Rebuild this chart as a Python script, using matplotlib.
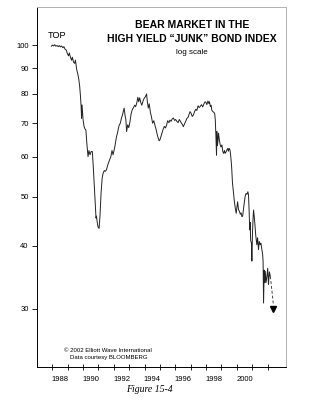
import matplotlib
matplotlib.use("Agg")
import matplotlib.pyplot as plt
from matplotlib.ticker import FixedLocator, NullFormatter, FixedFormatter

# index readings (decimal year, value)
years = [1987.93, 1988.0, 1988.08, 1988.15, 1988.22, 1988.3, 1988.38, 1988.45, 1988.52,
         1988.6, 1988.68, 1988.75, 1988.82, 1988.9, 1988.97, 1989.05, 1989.1, 1989.17,
         1989.25, 1989.3, 1989.38, 1989.45, 1989.5, 1989.58, 1989.65, 1989.72, 1989.78,
         1989.83, 1989.87, 1989.9, 1989.93, 1989.96, 1990.0, 1990.06, 1990.12, 1990.18,
         1990.24, 1990.32, 1990.38, 1990.45, 1990.52, 1990.6, 1990.66, 1990.72, 1990.78,
         1990.84, 1990.87, 1990.92, 1990.97, 1991.04, 1991.1, 1991.17, 1991.24, 1991.3,
         1991.38, 1991.45, 1991.52, 1991.6, 1991.66, 1991.72, 1991.8, 1991.88, 1991.95,
         1992.02, 1992.06, 1992.12, 1992.17, 1992.24, 1992.3, 1992.35, 1992.42, 1992.5,
         1992.56, 1992.62, 1992.67, 1992.73, 1992.78, 1992.83, 1992.9, 1992.97, 1993.05,
         1993.12, 1993.2, 1993.28, 1993.35, 1993.42, 1993.5, 1993.56, 1993.62, 1993.68,
         1993.75, 1993.82, 1993.9, 1993.97, 1994.05, 1994.13, 1994.18, 1994.24, 1994.3,
         1994.38, 1994.45, 1994.52, 1994.6, 1994.67, 1994.75, 1994.82, 1994.88, 1994.95,
         1995.0, 1995.06, 1995.12, 1995.2, 1995.28, 1995.36, 1995.43, 1995.5, 1995.58,
         1995.65, 1995.72, 1995.8, 1995.87, 1995.95, 1996.02, 1996.1, 1996.18, 1996.26,
         1996.34, 1996.4, 1996.47, 1996.52, 1996.6, 1996.68, 1996.76, 1996.84, 1996.9,
         1996.96, 1997.03, 1997.1, 1997.17, 1997.25, 1997.33, 1997.4, 1997.48, 1997.55,
         1997.61, 1997.7, 1997.78, 1997.86, 1997.94, 1998.0, 1998.05, 1998.12, 1998.18,
         1998.22, 1998.28, 1998.33, 1998.37, 1998.44, 1998.5, 1998.56, 1998.6, 1998.64,
         1998.68, 1998.7, 1998.74, 1998.78, 1998.81, 1998.86, 1998.92, 1998.97, 1999.03,
         1999.09, 1999.14, 1999.2, 1999.24, 1999.3, 1999.36, 1999.42, 1999.45, 1999.5,
         1999.56, 1999.61, 1999.66, 1999.72, 1999.78, 1999.84, 1999.9, 1999.96, 2000.0,
         2000.05, 2000.11, 2000.17, 2000.23, 2000.28, 2000.33, 2000.38, 2000.44, 2000.5,
         2000.54, 2000.6, 2000.66, 2000.72, 2000.76, 2000.8, 2000.84, 2000.87, 2000.9,
         2000.95, 2000.98, 2001.02, 2001.06, 2001.09, 2001.13, 2001.18, 2001.23,
         2001.3, 2001.35, 2001.41, 2001.46, 2001.52, 2001.57, 2001.63, 2001.68, 2001.71,
         2001.74, 2001.78, 2001.82, 2001.85, 2001.9, 2001.96, 2002.01, 2002.06, 2002.12,
         2002.18]
index = [99.5, 100.0, 99.6, 100.2, 99.5, 99.8, 99.3, 99.8, 99.2,
         99.6, 98.8, 99.3, 98.2, 97.8, 96.3, 95.2, 96.5, 94.8,
         93.3, 94.6, 92.5, 92.0, 93.4, 89.5, 87.8, 85.5, 82.7,
         79.0, 75.5, 71.6, 76.1, 74.0, 71.0, 69.0, 68.2, 67.9,
         64.0, 60.1, 61.8, 60.6, 61.5, 61.5, 57.5, 53.0, 48.5,
         45.4, 45.8, 44.5, 43.6, 43.3, 46.0, 51.0, 54.5, 55.7,
         56.4, 56.2, 56.6, 57.8, 58.5, 59.2, 60.0, 61.8, 60.6,
         62.0, 62.8, 64.5, 65.8, 67.0, 68.5, 69.4, 70.0, 71.8,
         72.6, 74.0, 75.0, 72.5, 71.2, 67.4, 69.5, 68.6, 70.5,
         73.0, 74.5, 75.2, 76.0, 75.5, 77.0, 78.8, 77.2, 78.6,
         77.0, 76.0, 77.5, 78.4, 79.0, 80.0, 77.2, 75.0, 76.5,
         73.5, 72.0, 70.0, 70.8, 69.4, 68.0, 66.5, 65.5, 64.6,
         64.9, 65.8, 66.7, 68.0, 69.0, 68.5, 69.4, 70.8, 70.2,
         71.0, 70.6, 71.4, 71.7, 70.9, 71.2, 70.6, 70.2, 71.2,
         70.5, 70.0, 69.5, 68.9, 69.8, 70.8, 71.6, 72.0, 73.0,
         73.8, 73.2, 72.2, 72.6, 73.8, 74.6, 74.2, 75.8, 75.2,
         75.5, 76.2, 75.4, 76.5, 77.2, 76.9, 76.2, 77.5, 76.6,
         77.2, 75.5, 76.0, 74.3, 73.8, 73.6, 73.2, 71.0, 66.0,
         60.5, 67.4, 63.2, 64.9, 66.9, 65.0, 63.4, 62.8, 63.4,
         61.5, 61.0, 61.8, 61.0, 61.4, 62.0, 62.4, 61.6, 62.4,
         61.9, 60.0, 57.5, 53.2, 51.0, 49.0, 47.5, 46.4, 47.5,
         48.9, 47.2, 46.8, 46.2, 46.5, 45.7, 45.8, 47.5, 49.0,
         50.1, 50.8, 50.6, 51.2, 50.5, 47.0, 43.0, 44.5, 41.0,
         40.5, 37.3, 42.5, 45.5, 47.1, 45.8, 44.0, 42.0,
         40.2, 41.5, 39.3, 40.8, 40.2, 40.5, 39.3, 38.5, 37.2,
         30.8, 35.8, 33.8, 35.6, 33.8, 34.8, 36.1, 33.5, 35.5,
         34.8]

# projected continuation (dashed arrow)
proj_years = [2002.18, 2002.38]
proj_index = [34.8, 30.6]

ytick_vals = [30, 40, 50, 60, 70, 80, 90, 100]
year_ticks = list(range(1988, 2003))
year_labels = ['1988', '1990', '1992', '1994', '1996', '1998', '2000']

W, H = 310, 400
fig = plt.figure(figsize=(W / 100, H / 100), dpi=100)
plt.rcParams['font.family'] = ['Liberation Sans', 'DejaVu Sans']
ax = fig.add_axes([37 / W, 1 - 367 / H, 249 / W, 360 / H])

ax.plot(years, index, color='#222222', lw=0.7)
ax.plot(proj_years, proj_index, color='#444444', lw=0.7, ls=(0, (3, 2)))
ax.plot([proj_years[-1]], [30.0], marker='v', color='black', ms=5, ls='none')

ax.set_yscale('log')
ax.set_ylim(23.0, 119.0)
ax.set_xlim(1987.0, 2003.2)

ax.yaxis.set_major_locator(FixedLocator(ytick_vals))
ax.yaxis.set_major_formatter(FixedFormatter([str(v) for v in ytick_vals]))
ax.yaxis.set_minor_locator(FixedLocator([]))
ax.yaxis.set_minor_formatter(NullFormatter())
ax.tick_params(axis='y', which='major', direction='out', length=3.5, width=0.6,
               labelsize=5.5, pad=2.5)

ax.xaxis.set_major_locator(FixedLocator(year_ticks))
ax.xaxis.set_major_formatter(NullFormatter())
ax.xaxis.set_minor_locator(FixedLocator([int(y) + 0.5 for y in year_labels]))
ax.xaxis.set_minor_formatter(FixedFormatter(year_labels))
ax.tick_params(axis='x', which='major', direction='inout', length=5, width=0.6)
ax.tick_params(axis='x', which='minor', length=0, labelsize=5.5, pad=6.5)

for s in ['left', 'bottom']:
    ax.spines[s].set_color('black')
    ax.spines[s].set_linewidth(0.7)
for s in ['top', 'right']:
    ax.spines[s].set_color('#b0b0b0')
    ax.spines[s].set_linewidth(0.7)

fig.text(192 / W, 1 - 25 / H, 'BEAR MARKET IN THE', ha='center', va='center',
         fontsize=7.5, fontweight='bold')
fig.text(192 / W, 1 - 39 / H, 'HIGH YIELD \u201cJUNK\u201d BOND INDEX', ha='center',
         va='center', fontsize=7.5, fontweight='bold')
fig.text(192 / W, 1 - 52 / H, 'log scale', ha='center', va='center', fontsize=5.8)
fig.text(48 / W, 1 - 35 / H, 'TOP', ha='left', va='center', fontsize=6.6)

fig.text(64 / W, 1 - 351 / H, '\u00a9 2002 Elliott Wave International', ha='left',
         va='center', fontsize=4.3)
fig.text(70 / W, 1 - 358 / H, 'Data courtesy BLOOMBERG', ha='left', va='center',
         fontsize=4.3)
fig.text(149 / W, 1 - 389 / H, 'Figure 15-4', ha='center', va='center', fontsize=7,
         family=['Liberation Serif', 'DejaVu Serif'], style='italic')

fig.savefig('out.png', dpi=100)
